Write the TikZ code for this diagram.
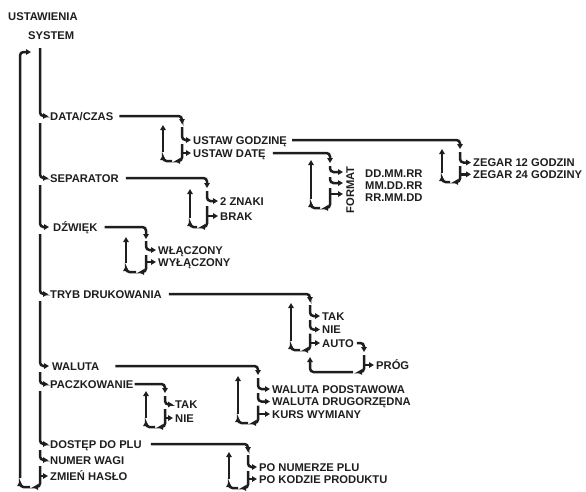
\documentclass[tikz,border=0pt]{standalone}
\usepackage{fontspec}
\setmainfont{Liberation Sans}
\usetikzlibrary{arrows.meta}
\definecolor{ink}{RGB}{30,30,30}
\tikzset{
 ln/.style={line width=2.5pt, draw=ink, rounded corners=3.5pt},
 arr/.style={-{Triangle[length=5pt,width=5.5pt]}},
 lbl/.style={font=\bfseries\fontsize{11.2}{11.2}\selectfont, text=ink, anchor=west, inner sep=0pt, text height=8pt, text depth=0pt},
}
% c, r, ystart, ybottom, ytop
\newcommand\retloop[5]{%
  \draw[ln,arr] (#1,#3) -- (#1,#4) -- (#1-7,#4);
  \draw[ln,arr] (#1-10,#4) -- (#2,#4) -- (#2,#4-6);
  \draw[ln,arr] (#2,#4-9) -- (#2,#5);
}
\begin{document}
\begin{tikzpicture}[x=1pt,y=-1pt]
\useasboundingbox (0,0) rectangle (586,491);
% titles
\node[lbl] (ust) at (8,16) {USTAWIENIA};
\node[lbl] (sys) at (28,35) {SYSTEM};
% main items
\node[lbl] (dataczas) at (50,116) {DATA/CZAS};
\node[lbl] (sep) at (50,178) {SEPARATOR};
\node[lbl] (dzw) at (53,227) {DŹWIĘK};
\node[lbl] (tryb) at (50,294) {TRYB DRUKOWANIA};
\node[lbl] (wal) at (52,366) {WALUTA};
\node[lbl] (pacz) at (50,384) {PACZKOWANIE};
\node[lbl] (dost) at (50,444) {DOSTĘP DO PLU};
\node[lbl] (num) at (50,460) {NUMER WAGI};
\node[lbl] (zmien) at (50,476) {ZMIEŃ HASŁO};
% sub items
\node[lbl] (ug) at (193,140) {USTAW GODZINĘ};
\node[lbl] (ud) at (193,153) {USTAW DATĘ};
\node[lbl] (z12) at (473,162.5) {ZEGAR 12 GODZIN};
\node[lbl] (z24) at (473,174.3) {ZEGAR 24 GODZINY};
\node[lbl, rotate=90, anchor=north] (fmt) at (346,190) {FORMAT};
\node[lbl] (f1) at (365,173) {DD.MM.RR};
\node[lbl] (f2) at (365,185) {MM.DD.RR};
\node[lbl] (f3) at (365,197) {RR.MM.DD};
\node[lbl] (zn) at (220,201) {2 ZNAKI};
\node[lbl] (brak) at (220,216) {BRAK};
\node[lbl] (wl) at (158,250) {WŁĄCZONY};
\node[lbl] (wyl) at (158,262) {WYŁĄCZONY};
\node[lbl] (tak) at (322,316) {TAK};
\node[lbl] (nie) at (322,329.5) {NIE};
\node[lbl] (auto) at (322,343) {AUTO};
\node[lbl] (prog) at (376,365) {PRÓG};
\node[lbl] (wp) at (272,389) {WALUTA PODSTAWOWA};
\node[lbl] (wd) at (272,401.5) {WALUTA DRUGORZĘDNA};
\node[lbl] (kw) at (272,414) {KURS WYMIANY};
\node[lbl] (ptak) at (175,404.5) {TAK};
\node[lbl] (pnie) at (175,418) {NIE};
\node[lbl] (pn) at (259,467) {PO NUMERZE PLU};
\node[lbl] (pk) at (259,479) {PO KODZIE PRODUKTU};

% ---- main column
\draw[ln,arr] (40,48) |- ([xshift=-2pt]dataczas.west);
\draw[ln,arr] (40,123) |- ([xshift=-2pt]sep.west);
\draw[ln,arr] (40,185) |- ([xshift=-4pt]dzw.west);
\draw[ln,arr] (40,234) |- ([xshift=-2pt]tryb.west);
\draw[ln,arr] (40,301) |- ([xshift=-3pt]wal.west);
\draw[ln,arr] (40,372) |- ([xshift=-2pt]pacz.west);
\draw[ln,arr] (40,391) |- ([xshift=-2pt]dost.west);
\draw[ln,arr] (40,450) |- ([xshift=-2pt]num.west);
\draw[ln,arr] (40,476) -- ([xshift=-2pt]zmien.west);
\draw[ln,arr] (40,466) -- (40,487) -- (33,487);
\draw[ln,arr] (30,487) -- (20,487) -- (20,481);
\draw[ln,arr] (20,478) -- (20,52) -- (31,52);

% ---- DATA/CZAS
\draw[ln,arr] ([xshift=6pt]dataczas.east) -| (182,124);
\draw[ln,arr] (182,127) |- ([xshift=-2pt]ug.west);
\draw[ln,arr] (182,153) -- ([xshift=-2pt]ud.west);
\retloop{182}{163}{144}{161}{125}

% ---- USTAW GODZINE -> ZEGAR
\draw[ln,arr] ([xshift=5pt]ug.east) -| (460,149);
\draw[ln,arr] (460,152) |- ([xshift=-2pt]z12.west);
\draw[ln,arr] (460,174.3) -- ([xshift=-2pt]z24.west);
\retloop{460}{442}{166}{182}{149}

% ---- USTAW DATE -> FORMAT
\draw[ln,arr] ([xshift=7pt]ud.east) -| (330,163);
\draw[ln,arr] (330,166) |- ([xshift=-3pt]fmt.north |- 0,172);
\draw[ln,arr] (330,177) |- ([xshift=-3pt]fmt.north |- 0,183);
\draw[ln,arr] (330,194) -- ([xshift=-3pt]fmt.north |- 0,194);
\retloop{330}{311}{188}{208}{160}

% ---- SEPARATOR
\draw[ln,arr] ([xshift=7pt]sep.east) -| (207,188);
\draw[ln,arr] (207,191) |- ([xshift=-2pt]zn.west);
\draw[ln,arr] (207,216) -- ([xshift=-2pt]brak.west);
\retloop{207}{190}{206}{227}{189}

% ---- DZWIEK
\draw[ln,arr] ([xshift=7pt]dzw.east) -| (146,239);
\draw[ln,arr] (146,241) |- ([xshift=-2pt]wl.west);
\draw[ln,arr] (146,262) -- ([xshift=-2pt]wyl.west);
\retloop{146}{126}{255}{272}{237}

% ---- TRYB DRUKOWANIA
\draw[ln,arr] ([xshift=7pt]tryb.east) -| (310,302);
\draw[ln,arr] (310,305) |- ([xshift=-2pt]tak.west);
\draw[ln,arr] (310,320) |- ([xshift=-2pt]nie.west);
\draw[ln,arr] (310,343) -- ([xshift=-2pt]auto.west);
\retloop{310}{291}{333.5}{350}{303}
% AUTO -> PROG
\draw[ln,arr] ([xshift=3pt]auto.east) -| (364,352);
\draw[ln,arr] (364,365) -- ([xshift=-2pt]prog.west);
\draw[ln,arr] (364,355) -- (364,372) -- (357,372);
\draw[ln,arr] (353,372) -- (310,372) -- (310,357);

% ---- WALUTA
\draw[ln,arr] ([xshift=16pt]wal.east) -| (258,375);
\draw[ln,arr] (258,378) |- ([xshift=-2pt]wp.west);
\draw[ln,arr] (258,393) |- ([xshift=-2pt]wd.west);
\draw[ln,arr] (258,414) -- ([xshift=-2pt]kw.west);
\retloop{258}{238}{405.5}{423}{376}

% ---- PACZKOWANIE
\draw[ln,arr] ([xshift=1pt]pacz.east) -| (165,393);
\draw[ln,arr] (165,396) |- ([xshift=-2pt]ptak.west);
\draw[ln,arr] (165,418) -- ([xshift=-2pt]pnie.west);
\retloop{165}{146}{409}{427}{391}

% ---- DOSTEP DO PLU
\draw[ln,arr] ([xshift=9pt]dost.east) -| (248,452);
\draw[ln,arr] (248,455) |- ([xshift=-2pt]pn.west);
\draw[ln,arr] (248,479) -- ([xshift=-2pt]pk.west);
\retloop{248}{229}{471}{488}{452}
\end{tikzpicture}
\end{document}
